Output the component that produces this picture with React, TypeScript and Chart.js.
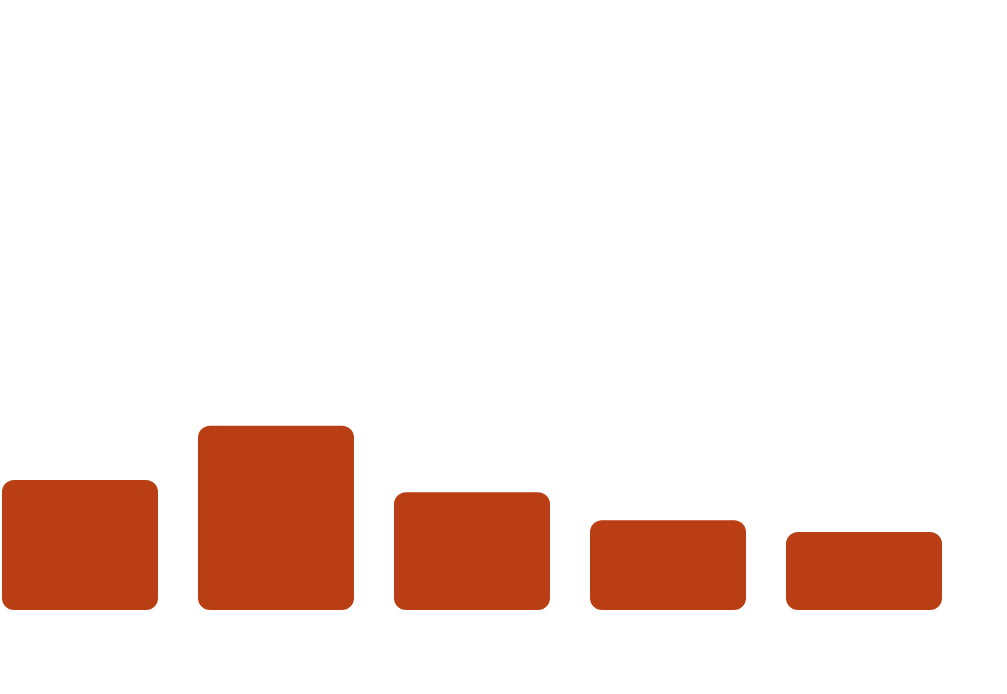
import React, { useEffect, useRef } from "react";
import { Chart, registerables } from "chart.js";

Chart.register(...registerables);

const categories = ["A", "B", "C", "D", "E"];
const values = [21.3, 30.2, 19.3, 14.7, 12.8];
const yMax = 100;

export default function App() {
  const ref = useRef<HTMLCanvasElement | null>(null);
  useEffect(() => {
    if (!ref.current) return;
    const chart = new Chart(ref.current, {
      type: "bar",
      data: {
        labels: categories,
        datasets: [
          {
            data: values,
            backgroundColor: "#B93E14",
            borderRadius: 12,
            borderSkipped: false,
            barPercentage: 1,
            categoryPercentage: 0.796,
          },
        ],
      },
      options: {
        animation: false,
        responsive: true,
        maintainAspectRatio: false,
        layout: { padding: 0 },
        plugins: { legend: { display: false }, tooltip: { enabled: false } },
        scales: {
          x: { display: false },
          y: { display: false, min: 0, max: yMax },
        },
      },
    });
    return () => chart.destroy();
  }, []);
  return (
    <div style={{ position: "absolute", left: -18, top: 0, width: 980, height: 610 }}>
      <canvas ref={ref} />
    </div>
  );
}
